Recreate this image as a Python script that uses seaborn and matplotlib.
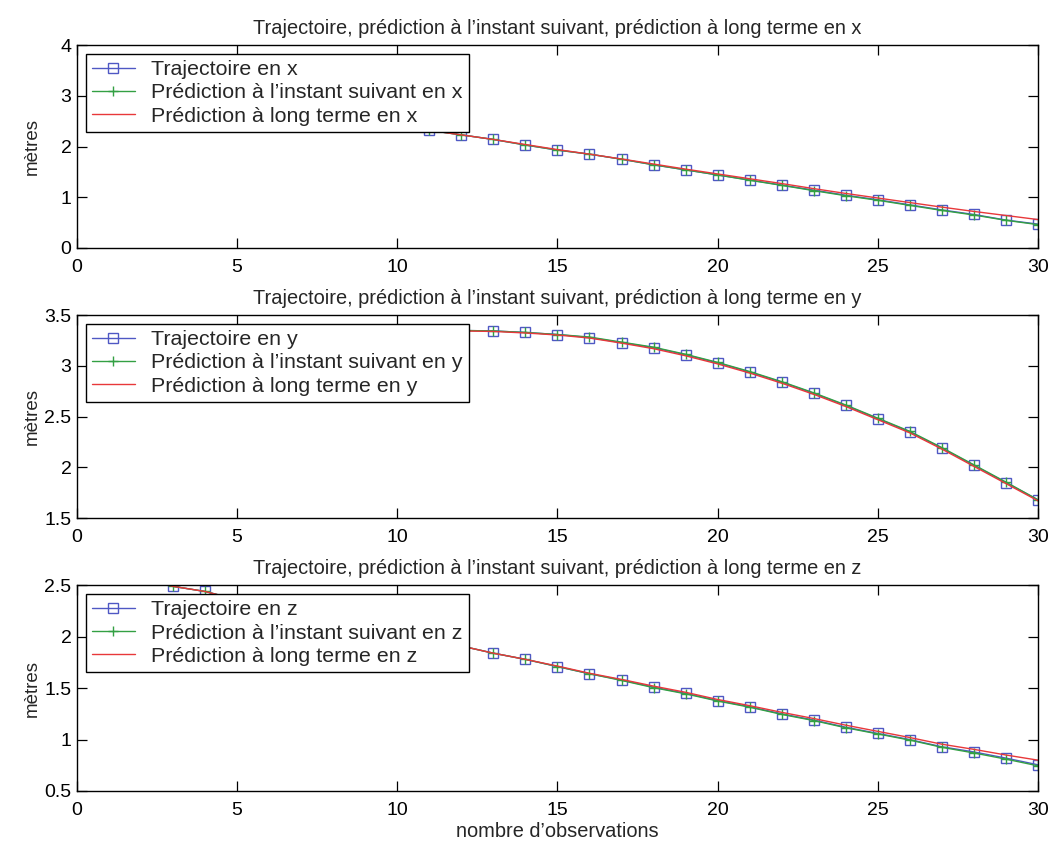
import matplotlib
matplotlib.use("Agg")
import matplotlib.pyplot as plt
from matplotlib.ticker import FormatStrFormatter
import seaborn as sns

# observation index
t = list(range(1, 31))

# x component
traj_x = [3.18, 3.10, 3.02, 2.94, 2.86, 2.78, 2.69, 2.60, 2.51, 2.42,
          2.32, 2.23, 2.14, 2.03, 1.93, 1.85, 1.75, 1.64, 1.54, 1.44,
          1.34, 1.24, 1.14, 1.04, 0.95, 0.85, 0.75, 0.66, 0.55, 0.47]
pred_x = [3.18, 3.10, 3.02, 2.94, 2.86, 2.78, 2.69, 2.60, 2.51, 2.42,
          2.32, 2.23, 2.14, 2.03, 1.93, 1.85, 1.75, 1.64, 1.54, 1.44,
          1.335, 1.235, 1.13, 1.03, 0.94, 0.84, 0.74, 0.65, 0.545, 0.46]
long_x = [3.18, 3.10, 3.02, 2.94, 2.86, 2.78, 2.69, 2.60, 2.51, 2.42,
          2.32, 2.23, 2.14, 2.04, 1.94, 1.85, 1.755, 1.655, 1.555, 1.46,
          1.365, 1.27, 1.17, 1.075, 0.985, 0.895, 0.805, 0.72, 0.64, 0.56]

# y component
traj_y = [2.90, 2.99, 3.07, 3.14, 3.20, 3.25, 3.29, 3.32, 3.335, 3.345,
          3.35, 3.35, 3.345, 3.33, 3.31, 3.28, 3.23, 3.18, 3.11, 3.03,
          2.94, 2.84, 2.73, 2.61, 2.48, 2.35, 2.19, 2.02, 1.85, 1.68]
pred_y = [2.90, 2.99, 3.07, 3.14, 3.20, 3.25, 3.29, 3.32, 3.335, 3.345,
          3.35, 3.35, 3.345, 3.33, 3.31, 3.285, 3.235, 3.185, 3.115, 3.035,
          2.945, 2.845, 2.735, 2.615, 2.485, 2.355, 2.195, 2.025, 1.855, 1.68]
long_y = [2.90, 2.99, 3.07, 3.14, 3.20, 3.25, 3.29, 3.32, 3.335, 3.345,
          3.35, 3.345, 3.34, 3.325, 3.305, 3.275, 3.225, 3.17, 3.10, 3.02,
          2.93, 2.83, 2.72, 2.60, 2.47, 2.34, 2.18, 2.01, 1.84, 1.67]

# z component
traj_z = [2.64, 2.57, 2.49, 2.44, 2.36, 2.30, 2.23, 2.17, 2.10, 2.04,
          1.97, 1.91, 1.84, 1.78, 1.71, 1.64, 1.58, 1.51, 1.45, 1.38,
          1.32, 1.25, 1.19, 1.12, 1.06, 1.00, 0.93, 0.88, 0.82, 0.755]
pred_z = [2.64, 2.57, 2.49, 2.44, 2.36, 2.30, 2.23, 2.17, 2.10, 2.04,
          1.97, 1.91, 1.84, 1.78, 1.71, 1.64, 1.575, 1.505, 1.445, 1.375,
          1.315, 1.245, 1.185, 1.115, 1.055, 0.995, 0.925, 0.87, 0.81, 0.745]
long_z = [2.64, 2.57, 2.49, 2.44, 2.36, 2.30, 2.23, 2.17, 2.10, 2.04,
          1.97, 1.91, 1.84, 1.78, 1.715, 1.645, 1.585, 1.52, 1.46, 1.39,
          1.33, 1.265, 1.205, 1.14, 1.08, 1.02, 0.955, 0.905, 0.85, 0.80]

axes_names = ["x", "y", "z"]
ylims = [(0, 4), (1.5, 3.5), (0.5, 2.5)]
yticks = [[0, 1, 2, 3, 4],
          [1.5, 2, 2.5, 3, 3.5],
          [0.5, 1, 1.5, 2, 2.5]]
series = [(traj_x, pred_x, long_x), (traj_y, pred_y, long_y), (traj_z, pred_z, long_z)]

blue = "#4f58c4"
green = "#33a043"
red = "#e8383a"

sns.set_theme(style="ticks")
plt.rcParams['font.family'] = ['Liberation Sans', 'DejaVu Sans']

fig = plt.figure(figsize=(10.58, 8.52), dpi=100)
boxes = [(0.0728, 0.709, 0.9082, 0.238),
         (0.0728, 0.392, 0.9082, 0.238),
         (0.0728, 0.0716, 0.9082, 0.2414)]

for i, name in enumerate(axes_names):
    ax = fig.add_axes(boxes[i])
    traj, pred, longt = series[i]
    sns.lineplot(x=t, y=traj, ax=ax, color=blue, lw=1.0, marker='s',
                 markersize=6.5, markerfacecolor='none', markeredgecolor=blue,
                 markeredgewidth=1.0, label="Trajectoire en " + name)
    sns.lineplot(x=t, y=pred, ax=ax, color=green, lw=1.0, marker='+',
                 markersize=7, markeredgecolor=green, markeredgewidth=1.0,
                 label="Prédiction à l’instant suivant en " + name)
    sns.lineplot(x=t, y=longt, ax=ax, color=red, lw=1.0,
                 label="Prédiction à long terme en " + name)

    ax.set_xlim(0, 30)
    ax.set_ylim(*ylims[i])
    ax.set_xticks([0, 5, 10, 15, 20, 25, 30])
    ax.set_yticks(yticks[i])
    ax.yaxis.set_major_formatter(FormatStrFormatter('%g'))
    ax.tick_params(direction='in', length=7, width=0.9, colors='black',
                   labelsize=14, top=True, right=True)
    ax.tick_params(axis='x', pad=8)
    ax.tick_params(axis='y', pad=4)
    for sp in ax.spines.values():
        sp.set_visible(True)
        sp.set_color('black')
        sp.set_linewidth(1.0)

    ax.set_title("Trajectoire, prédiction à l’instant suivant, prédiction à long terme en " + name,
                 fontsize=14.4, pad=8)
    ax.set_ylabel("mètres", fontsize=13.5)
    ax.yaxis.set_label_coords(-0.038, 0.5)

    leg = ax.legend(loc='upper left', fontsize=15.4, frameon=True, fancybox=False,
                    framealpha=1, edgecolor='black', borderpad=0.3,
                    labelspacing=0.2, handlelength=2.0, handletextpad=0.75,
                    borderaxespad=0.4)
    leg.get_frame().set_linewidth(1.0)

    if i == 2:
        ax.set_xlabel("nombre d’observations", fontsize=14.4, labelpad=2)

fig.savefig("out.png", dpi=100)
